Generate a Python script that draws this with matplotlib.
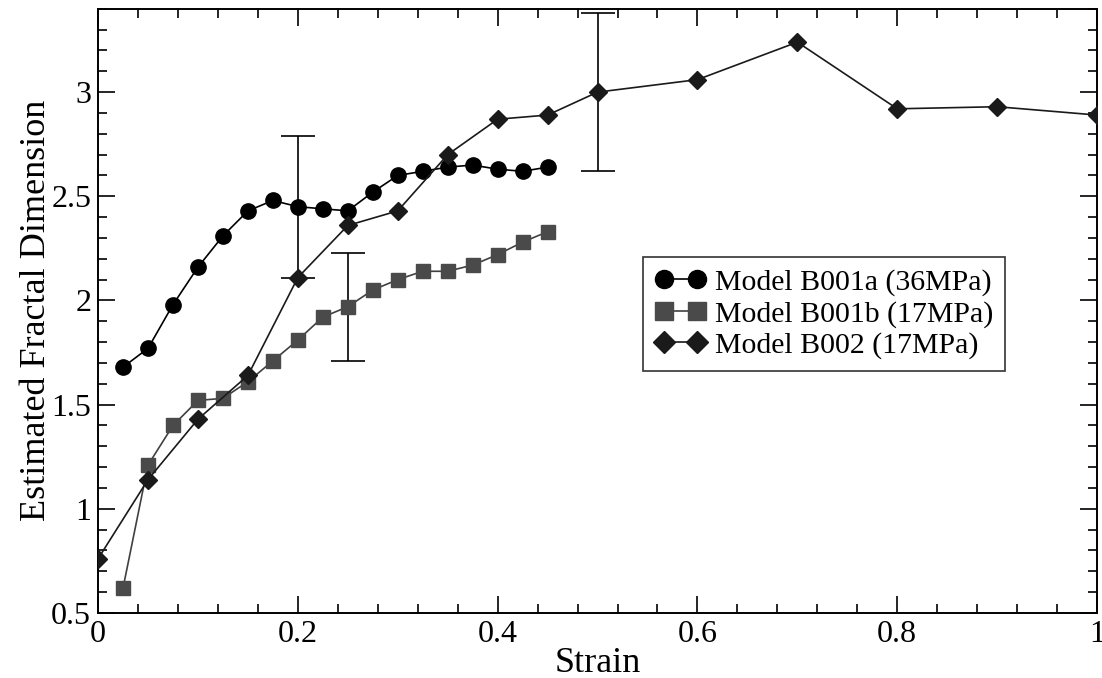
import matplotlib
matplotlib.use('Agg')
import matplotlib.pyplot as plt
from matplotlib.ticker import MultipleLocator

# strain / fractal dimension data for each model
strain_a = [0.025, 0.05, 0.075, 0.1, 0.125, 0.15, 0.175, 0.2, 0.225,
            0.25, 0.275, 0.3, 0.325, 0.35, 0.375, 0.4, 0.425, 0.45]
dim_a = [1.68, 1.77, 1.98, 2.16, 2.31, 2.43, 2.48, 2.45, 2.44,
         2.43, 2.52, 2.60, 2.62, 2.64, 2.65, 2.63, 2.62, 2.64]

strain_b = [0.025, 0.05, 0.075, 0.1, 0.125, 0.15, 0.175, 0.2, 0.225,
            0.25, 0.275, 0.3, 0.325, 0.35, 0.375, 0.4, 0.425, 0.45]
dim_b = [0.62, 1.21, 1.40, 1.52, 1.53, 1.61, 1.71, 1.81, 1.92,
         1.97, 2.05, 2.10, 2.14, 2.14, 2.17, 2.22, 2.28, 2.33]

strain_c = [0.0, 0.05, 0.1, 0.15, 0.2, 0.25, 0.3, 0.35, 0.4, 0.45,
            0.5, 0.6, 0.7, 0.8, 0.9, 1.0]
dim_c = [0.76, 1.14, 1.43, 1.64, 2.11, 2.36, 2.43, 2.70, 2.87, 2.89,
         3.00, 3.06, 3.24, 2.92, 2.93, 2.89]

# one error bar per model
err_x = [0.2, 0.25, 0.5]
err_y = [2.45, 1.97, 3.00]
err_size = [0.34, 0.26, 0.38]

plt.rcParams['font.family'] = ['Liberation Serif', 'DejaVu Serif']

fig = plt.figure(figsize=(11.02, 6.78), dpi=100)
ax = fig.add_axes([0.089, 0.096, 0.9065, 0.891])

ax.errorbar(err_x, err_y, yerr=err_size, fmt='none', ecolor='black',
            elinewidth=1.2, capsize=12, capthick=1.2, zorder=1)

ax.plot(strain_a, dim_a, color='black', lw=1.2, marker='o', ms=11,
        label='Model B001a (36MPa)', zorder=3)
ax.plot(strain_b, dim_b, color='#404040', lw=1.2, marker='s', ms=10,
        mfc='#4a4a4a', mec='#4a4a4a', label='Model B001b (17MPa)', zorder=2)
ax.plot(strain_c, dim_c, color='#1a1a1a', lw=1.2, marker='D', ms=9,
        mfc='#1a1a1a', mec='#1a1a1a', label='Model B002 (17MPa)', zorder=4)

ax.set_xlim(0, 1)
ax.set_ylim(0.5, 3.4)
ax.xaxis.set_minor_locator(MultipleLocator(0.04))
ax.yaxis.set_minor_locator(MultipleLocator(0.1))
ax.set_xticks([0, 0.2, 0.4, 0.6, 0.8, 1.0])
ax.set_xticklabels(['0', '0.2', '0.4', '0.6', '0.8', '1'])
ax.set_yticks([0.5, 1, 1.5, 2, 2.5, 3])
ax.set_yticklabels(['0.5', '1', '1.5', '2', '2.5', '3'])

ax.tick_params(which='both', direction='in', top=True, right=True,
               labelsize=23, width=1.2)
ax.tick_params(which='major', length=12, pad=5)
ax.tick_params(which='minor', length=6.5)
for s in ax.spines.values():
    s.set_linewidth(1.4)

ax.set_xlabel('Strain', fontsize=26, labelpad=-1.5)
ax.set_ylabel('Estimated Fractal Dimension', fontsize=26, labelpad=-1)

leg = ax.legend(loc='upper left', bbox_to_anchor=(0.5455, 0.589), fontsize=21.5,
                frameon=True, fancybox=False, edgecolor='black',
                numpoints=2, handlelength=1.7, handletextpad=0.3,
                borderpad=0.4, labelspacing=0.14, borderaxespad=0)
leg.get_frame().set_linewidth(1.2)
for h, size in zip(leg.legend_handles, [13, 12.5, 11]):
    h.set_markersize(size)

plt.savefig('out.png', dpi=100)
